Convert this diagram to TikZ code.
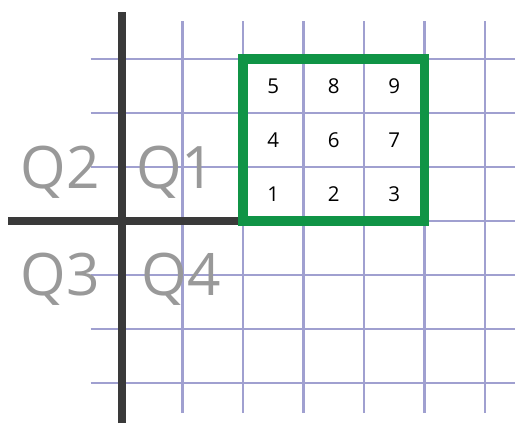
\documentclass[tikz,border=0pt]{standalone}
\usepackage{fontspec}
\setmainfont{Open Sans}
\definecolor{gridblue}{RGB}{160,160,208}
\definecolor{boxgreen}{RGB}{16,148,70}
\definecolor{axisgray}{RGB}{58,58,58}
\definecolor{labelgray}{RGB}{153,153,153}

\begin{document}
\begin{tikzpicture}[x=1.815cm, y=1.62cm,
    gridline/.style={gridblue, line width=2.4pt},
    axisline/.style={axisgray, line width=7.5pt},
    quadlabel/.style={labelgray, anchor=base, inner sep=0pt, font=\fontsize{50}{50}\selectfont},
    cellnum/.style={inner sep=0pt, font=\fontsize{17.5}{17.5}\selectfont}]
    \useasboundingbox (-2.0165,-3.741) rectangle (6.496,4.093);

    % 网格线
    \foreach \x in {1,...,6}
        \draw[gridline] (\x,-3.556) -- (\x,3.704);
    \foreach \y in {-3,...,3}
        \draw[gridline] (-0.517,\y) -- (6.496,\y);

    % 坐标轴
    \draw[axisline] (0,-3.741) -- (0,3.870);
    \draw[axisline] (-1.884,0) -- (2,0);

    % 象限名称
    \node[quadlabel] (q2) at (-1.025,0.611) {Q2};
    \node[quadlabel] (q1) at (0.89,0.611) {Q1};
    \node[quadlabel] (q3) at (-1.025,-1.37) {Q3};
    \node[quadlabel] (q4) at (0.975,-1.37) {Q4};

    % 3x3 方框
    \draw[boxgreen, line width=8.5pt, miter limit=10] (2,0) rectangle (5,3);

    % 格子里的数字
    \foreach \n/\cx/\cy in {1/2.5/0.5, 2/3.5/0.5, 3/4.5/0.5,
                            4/2.5/1.5, 6/3.5/1.5, 7/4.5/1.5,
                            5/2.5/2.5, 8/3.5/2.5, 9/4.5/2.5}
        \node[cellnum] (n\n) at (\cx,\cy) {\n};
\end{tikzpicture}
\end{document}
